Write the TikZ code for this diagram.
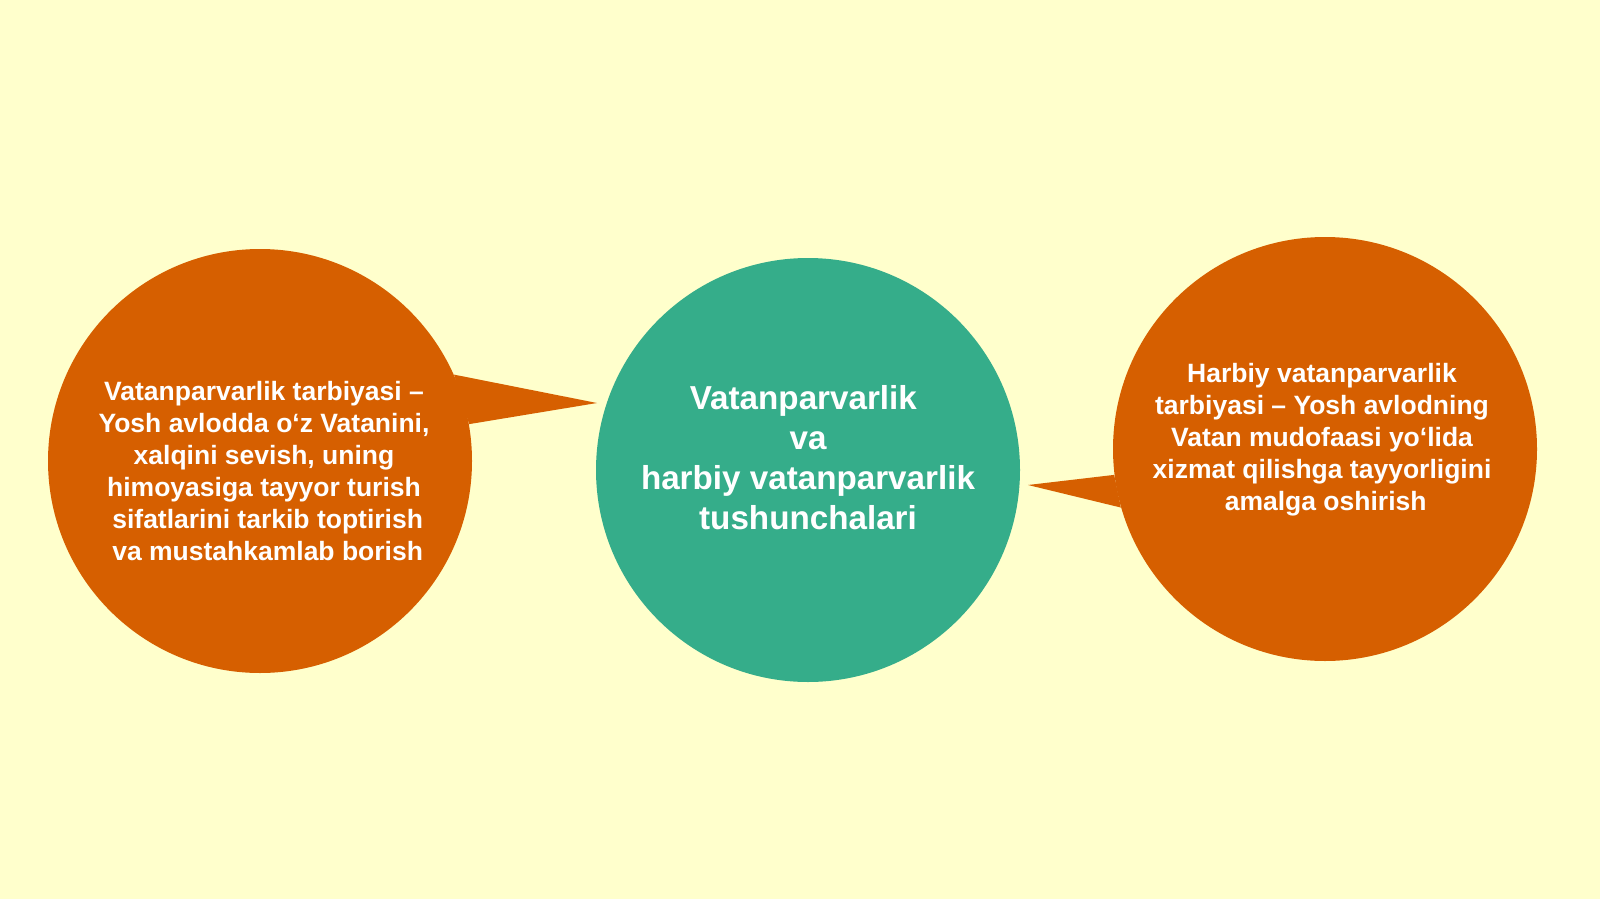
\documentclass[tikz,border=0pt]{standalone}
\usepackage{fontspec}
\setmainfont{Liberation Sans}
\definecolor{paper}{HTML}{FFFFCC}
\definecolor{burnt}{HTML}{D65F00}
\definecolor{sea}{HTML}{35AD8A}
\newcommand{\gap}{\hphantom{\ }}
\begin{document}
\begin{tikzpicture}[x=0.5pt, y=-0.5pt, line join=round,
    bubble/.style={circle, fill=#1, minimum size=212pt, inner sep=0pt},
    smalltext/.style={text=white, align=center, font=\bfseries\fontsize{13.25}{16}\selectfont},
    bigtext/.style={text=white, align=center, font=\bfseries\fontsize{16.6}{20}\selectfont}]
	\fill[paper] (0,0) rectangle (1600,899);
	% three bubbles
	\node[bubble=burnt] (left) at (260,461) {};
	\node[bubble=sea] (mid) at (808,470) {};
	\node[bubble=burnt] (right) at (1325,449) {};
	% callout tails
	\coordinate (lefttip) at (597,403);
	\coordinate (righttip) at (1028,485);
	\fill[burnt] (left.24.5) -- (lefttip) -- (left.10.5) -- cycle;
	\fill[burnt] (right.187.5) -- (righttip) -- (right.196.8) -- cycle;
	% texts
	\node[smalltext] (lefttext) at (264,471) {Vatanparvarlik tarbiyasi –\\Yosh avlodda o‘z Vatanini,\\xalqini sevish, uning\\himoyasiga tayyor turish\\\gap sifatlarini tarkib toptirish\\\gap va mustahkamlab borish};
	\node[bigtext] (midtext) at (808,458) {Vatanparvarlik\gap\\va\\harbiy vatanparvarlik\\tushunchalari};
	\node[smalltext] (righttext) at (1322,440) {Harbiy vatanparvarlik\\tarbiyasi – Yosh avlodning\\Vatan mudofaasi yo‘lida\\xizmat qilishga tayyorligini\\\gap amalga oshirish};
\end{tikzpicture}
\end{document}
